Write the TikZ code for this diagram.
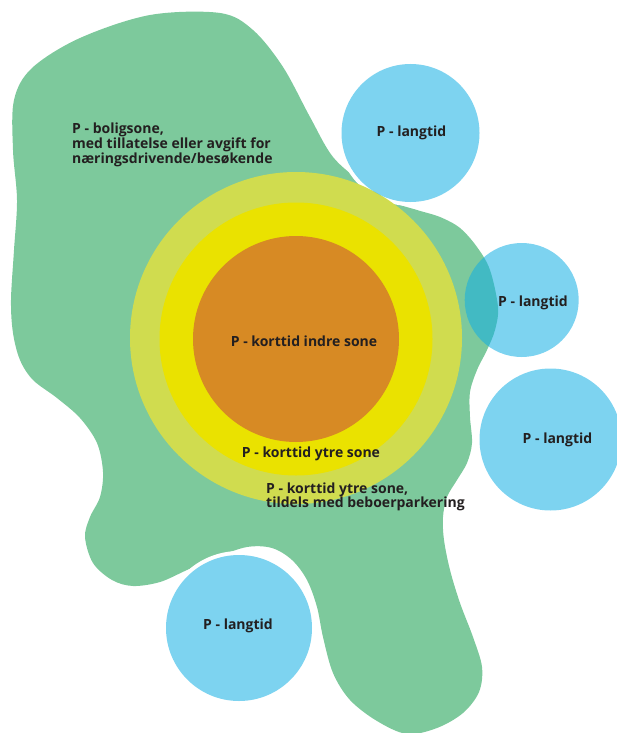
\documentclass[tikz,border=0pt]{standalone}
\usepackage{fontspec}
\setmainfont{Open Sans}
\definecolor{blobgreen}{HTML}{7DC99C}
\definecolor{ringout}{HTML}{D0DC4F}
\definecolor{ringmid}{HTML}{EAE200}
\definecolor{ringin}{HTML}{D78A24}
\definecolor{pblue}{HTML}{13AFE4}
\definecolor{txt}{HTML}{231F20}
\begin{document}
\begin{tikzpicture}[x=1pt,y=-1pt,
  lbl/.style={font=\fontsize{14}{14}\selectfont\bfseries, text=txt, inner sep=0pt, align=left},
  zone/.style={circle, inner sep=0pt, minimum size=#1},
  park/.style={circle, inner sep=0pt, minimum size=#1, fill=pblue, fill opacity=0.55},
  gap/.style={circle, inner sep=0pt, minimum size=#1, fill=white}]
\useasboundingbox (0,0) rectangle (617,733);
% green residential zone
\fill[blobgreen] plot[smooth cycle, tension=0.55] coordinates {
 (150,15) (220,13) (253,30) (283,67) (310,117) (333,157) (363,183) (393,202)
 (417,210) (440,217) (460,228) (477,247) (490,270) (498,307) (495,330) (487,350)
 (477,370) (470,392) (470,417) (472,443) (467,463) (457,480) (447,497) (443,517)
 (444,540) (450,570) (460,603) (473,637) (482,667) (479,692) (463,713) (437,728)
 (407,734) (377,721) (350,700) (333,673) (323,637) (317,607) (307,580) (292,560)
 (272,548) (247,547) (217,557) (187,570) (160,582) (133,586) (112,580) (93,563)
 (85,537) (90,517) (100,497) (103,472) (97,443) (80,418) (57,398) (33,380)
 (20,360) (13,333) (11,300) (14,250) (17,200) (13,150) (14,100) (32,68) (80,38)};
% white gaps round the outer parking circles
\node[gap=146] (g1) at (410.5,133) {};
\node[gap=154] (g4) at (239,628) {};
% concentric zones
\node[zone=332, fill=ringout] (outer) at (296,338) {};
\node[zone=273, fill=ringmid] (mid) at (296,339) {};
\node[zone=206, fill=ringin] (inner) at (296,339) {};
% long-term parking circles
\node[park=138] (p1) at (410.5,133) {};
\node[park=114] (p2) at (521.7,300) {};
\node[park=142] (p3) at (550.5,439.5) {};
\node[park=146] (p4) at (239,628) {};
% labels (multi-line nodes: base = baseline of the last line)
\node[lbl, anchor=base west] (tbolig) at (72,163) {P - boligsone,\\med tillatelse eller avgift for\\næringsdrivende/besøkende};
\node[lbl, anchor=base] (t1) at (411.5,136.5) {P - langtid};
\node[lbl, anchor=base] (t2) at (533,306) {P - langtid};
\node[lbl, anchor=base] (t3) at (557.5,443) {P - langtid};
\node[lbl, anchor=base] (t4) at (238,629) {P - langtid};
\node[lbl, anchor=base] (tindre) at (304,346) {P - korttid indre sone};
\node[lbl, anchor=base] (tytre) at (311,457) {P - korttid ytre sone};
\node[lbl, anchor=base west] (tbeboer) at (266,507) {P - korttid ytre sone,\\tildels med beboerparkering};
\end{tikzpicture}
\end{document}
